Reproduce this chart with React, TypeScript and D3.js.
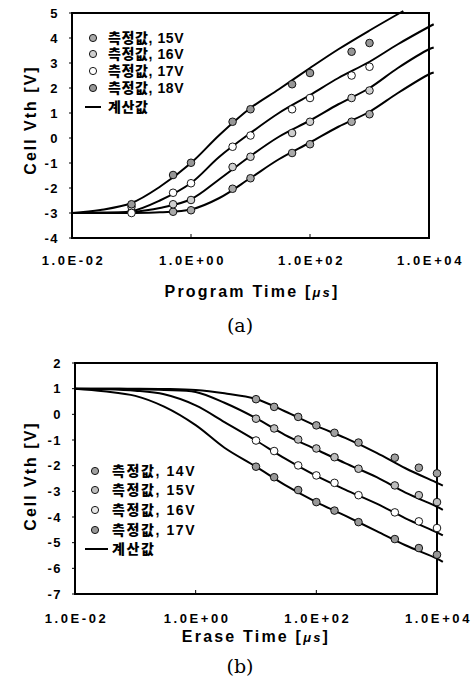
import React from "react";
import * as d3 from "d3";

// ---------- Panel (a): program ----------
const progTimes = [0.1, 0.5, 1, 5, 10, 50, 100, 500, 1000];
const prog15 = [-2.95, -2.95, -2.89, -2.03, -1.61, -0.6, -0.25, 0.65, 0.95];
const prog16 = [-2.75, -2.65, -2.48, -1.16, -0.75, 0.2, 0.65, 1.6, 1.9];
const prog17 = [-3.0, -2.19, -1.81, -0.35, 0.1, 1.15, 1.6, 2.5, 2.85];
const prog18 = [-2.65, -1.48, -0.99, 0.65, 1.15, 2.15, 2.6, 3.45, 3.8];

const calcTimesA = [0.01, 0.03, 0.1, 0.3, 1, 3, 10, 30, 100, 300, 1000, 3000, 10000, 12000];
const calcA15 = [-3, -3.0, -3.0, -2.97, -2.86, -2.4, -1.6, -0.85, -0.18, 0.45, 1.05, 1.8, 2.55, 2.62];
const calcA16 = [-3, -3.0, -2.96, -2.8, -2.45, -1.65, -0.72, 0.05, 0.7, 1.35, 2.0, 2.8, 3.55, 3.62];
const calcA17 = [-3, -2.98, -2.93, -2.5, -1.8, -0.75, 0.2, 1.0, 1.72, 2.4, 3.05, 3.75, 4.45, 4.55];
const calcTimesA18 = [0.01, 0.03, 0.1, 0.3, 1, 3, 10, 30, 100, 300, 1000, 3700];
const calcA18 = [-3, -2.88, -2.6, -1.95, -1.0, 0.12, 1.2, 1.95, 2.8, 3.55, 4.3, 5.08];

const yTicksA = [5, 4, 3, 2, 1, 0, -1, -2, -3, -4];
const legendA = ["측정값, 15V", "측정값, 16V", "측정값, 17V", "측정값, 18V"];

// ---------- Panel (b): erase ----------
const eraseTimes = [10, 20, 50, 100, 200, 500, 2000, 5000, 10000];
const erase14 = [0.59, 0.29, -0.1, -0.43, -0.72, -1.1, -1.69, -2.08, -2.3];
const erase15 = [-0.17, -0.55, -0.98, -1.33, -1.67, -2.12, -2.77, -3.15, -3.42];
const erase16 = [-1.02, -1.43, -1.99, -2.38, -2.67, -3.15, -3.82, -4.17, -4.43];
const erase17 = [-2.04, -2.45, -2.95, -3.42, -3.75, -4.2, -4.86, -5.21, -5.47];

const calcTimesB = [0.01, 0.03, 0.1, 0.3, 1, 3, 10, 30, 100, 300, 1000, 3000, 10000, 12500];
const calcB14 = [1.0, 1.0, 1.0, 0.99, 0.95, 0.82, 0.6, 0.12, -0.45, -0.92, -1.5, -2.1, -2.67, -2.78];
const calcB15 = [1.0, 1.0, 0.98, 0.95, 0.87, 0.45, -0.15, -0.8, -1.37, -1.9, -2.45, -3.05, -3.6, -3.72];
const calcB16 = [1.0, 0.98, 0.92, 0.78, 0.35, -0.3, -1.02, -1.72, -2.4, -2.93, -3.48, -4.05, -4.6, -4.72];
const calcB17 = [1.0, 0.9, 0.72, 0.3, -0.42, -1.3, -2.04, -2.75, -3.42, -3.95, -4.55, -5.1, -5.62, -5.75];

const yTicksB = [2, 1, 0, -1, -2, -3, -4, -5, -6, -7];
const legendB = ["측정값, 14V", "측정값, 15V", "측정값, 16V", "측정값, 17V"];
const calcLabel = "계산값";

const xTickValues = [0.01, 1, 100, 10000];
const xTickLabels = ["1.0E-02", "1.0E+00", "1.0E+02", "1.0E+04"];

const FONT = "'Liberation Sans', Arial, 'Noto Sans CJK KR', sans-serif";

type Series = { times: number[]; values: number[]; fill: string };
type Curve = { times: number[]; values: number[] };

function Panel(props: {
  left: number; right: number; top: number; bottom: number;
  yDomain: [number, number]; yTicks: number[];
  series: Series[]; curves: Curve[];
  legendLabels: string[]; legendFills: string[];
  legendX: number; legendTextX: number; legendYs: number[]; legendLineY: number;
  legendLineX: [number, number]; legendSpacing: number;
  xLabelY: number; xTitle: string; xTitleX: number; xTitleY: number;
  yTitleX: number; yTitleY: number; caption: string; captionY: number;
}) {
  const p = props;
  const x = d3.scaleLog().domain([0.01, 10000]).range([p.left, p.right]);
  const y = d3.scaleLinear().domain(p.yDomain).range([p.bottom, p.top]);
  const line = d3.line<[number, number]>()
    .x((d) => x(d[0]))
    .y((d) => y(d[1]))
    .curve(d3.curveCatmullRom.alpha(0.5));

  return (
    <g>
      {/* frame */}
      <rect x={p.left} y={p.top} width={p.right - p.left} height={p.bottom - p.top}
        fill="none" stroke="#000" strokeWidth={2} />
      {/* y ticks */}
      {p.yTicks.map((t) => (
        <g key={"yt" + t}>
          <line x1={p.left - 3} x2={p.left} y1={y(t)} y2={y(t)} stroke="#000" strokeWidth={1} />
          <text x={p.left - 13} y={y(t) + 4.5} textAnchor="end" fontFamily={FONT}
            fontWeight="bold" fontSize={13} letterSpacing={1.5}>
            {t < 0 ? "-" + Math.abs(t) : String(t)}
          </text>
        </g>
      ))}
      {/* x ticks */}
      {xTickValues.map((t, i) => (
        <g key={"xt" + i}>
          {i > 0 && i < 3 && (
            <line x1={x(t)} x2={x(t)} y1={p.bottom} y2={p.bottom - 4} stroke="#000" strokeWidth={1} />
          )}
          <text x={x(t) + 1.5} y={p.xLabelY} textAnchor="middle" fontFamily={FONT}
            fontWeight="bold" fontSize={13} letterSpacing={2.6}>
            {xTickLabels[i]}
          </text>
        </g>
      ))}
      {/* curves */}
      {p.curves.map((c, i) => (
        <path key={"c" + i}
          d={line(c.times.map((t, j) => [t, c.values[j]] as [number, number])) || ""}
          fill="none" stroke="#000" strokeWidth={2} />
      ))}
      {/* measured points */}
      {p.series.map((s, i) => (
        <g key={"s" + i}>
          {s.times.map((t, j) => (
            <circle key={j} cx={x(t)} cy={y(s.values[j])} r={3.8}
              fill={s.fill} stroke="#000" strokeWidth={0.9} />
          ))}
        </g>
      ))}
      {/* legend */}
      {p.legendLabels.map((lab, i) => (
        <g key={"lg" + i}>
          <circle cx={p.legendX} cy={p.legendYs[i]} r={3.6} fill={p.legendFills[i]}
            stroke="#000" strokeWidth={0.9} />
          <text x={p.legendTextX} y={p.legendYs[i] + 5} fontFamily={FONT}
            fontWeight={900} fontSize={14} letterSpacing={p.legendSpacing}>{lab}</text>
        </g>
      ))}
      <line x1={p.legendLineX[0]} x2={p.legendLineX[1]} y1={p.legendLineY} y2={p.legendLineY}
        stroke="#000" strokeWidth={2} />
      <text x={p.legendTextX} y={p.legendLineY + 5} fontFamily={FONT}
        fontWeight={900} fontSize={14} letterSpacing={p.legendSpacing}>{calcLabel}</text>
      {/* axis titles */}
      <text x={p.xTitleX} y={p.xTitleY} textAnchor="middle" fontFamily={FONT}
        fontWeight="bold" fontSize={16} letterSpacing={2.2}>
        {p.xTitle} [<tspan fontStyle="italic" fontSize={13}>μs</tspan>]
      </text>
      <text transform={`translate(${p.yTitleX},${p.yTitleY}) rotate(-90)`} textAnchor="middle"
        fontFamily={FONT} fontWeight="bold" fontSize={16} letterSpacing={2}>
        Cell Vth [V]
      </text>
      <text x={240} y={p.captionY} textAnchor="middle" fontFamily="'DejaVu Serif', 'Liberation Serif', serif"
        fontSize={19}>{p.caption}</text>
    </g>
  );
}

export default function App() {
  const fillsA = ["#a8a8a8", "#cfcfcf", "#ffffff", "#969696"];
  const fillsB = ["#a0a0a0", "#bdbdbd", "#e6e6e6", "#979797"];
  return (
    <svg width={472} height={687} style={{ position: "absolute", left: 0, top: 0, background: "#fff" }}>
      <rect x={0} y={0} width={472} height={687} fill="#fff" />
      <Panel
        left={72} right={429} top={13} bottom={238}
        yDomain={[-4, 5]} yTicks={yTicksA}
        series={[
          { times: progTimes, values: prog15, fill: fillsA[0] },
          { times: progTimes, values: prog16, fill: fillsA[1] },
          { times: progTimes, values: prog17, fill: fillsA[2] },
          { times: progTimes, values: prog18, fill: fillsA[3] },
        ]}
        curves={[
          { times: calcTimesA, values: calcA15 },
          { times: calcTimesA, values: calcA16 },
          { times: calcTimesA, values: calcA17 },
          { times: calcTimesA18, values: calcA18 },
        ]}
        legendLabels={legendA} legendFills={fillsA}
        legendX={93} legendTextX={108} legendYs={[38, 54, 71, 88]} legendLineY={107}
        legendLineX={[85, 101]} legendSpacing={0.6}
        xLabelY={265} xTitle="Program Time" xTitleX={252} xTitleY={297}
        yTitleX={36} yTitleY={120} caption="(a)" captionY={332}
      />
      <Panel
        left={75} right={437} top={363} bottom={594}
        yDomain={[-7, 2]} yTicks={yTicksB}
        series={[
          { times: eraseTimes, values: erase14, fill: fillsB[0] },
          { times: eraseTimes, values: erase15, fill: fillsB[1] },
          { times: eraseTimes, values: erase16, fill: "#ffffff" },
          { times: eraseTimes, values: erase17, fill: fillsB[3] },
        ]}
        curves={[
          { times: calcTimesB, values: calcB14 },
          { times: calcTimesB, values: calcB15 },
          { times: calcTimesB, values: calcB16 },
          { times: calcTimesB, values: calcB17 },
        ]}
        legendLabels={legendB} legendFills={fillsB}
        legendX={95} legendTextX={112} legendYs={[471, 490, 510, 530]} legendLineY={549}
        legendLineX={[85, 108]} legendSpacing={1.6}
        xLabelY={623} xTitle="Erase Time" xTitleX={256} xTitleY={642}
        yTitleX={36} yTitleY={476} caption="(b)" captionY={673}
      />
    </svg>
  );
}
